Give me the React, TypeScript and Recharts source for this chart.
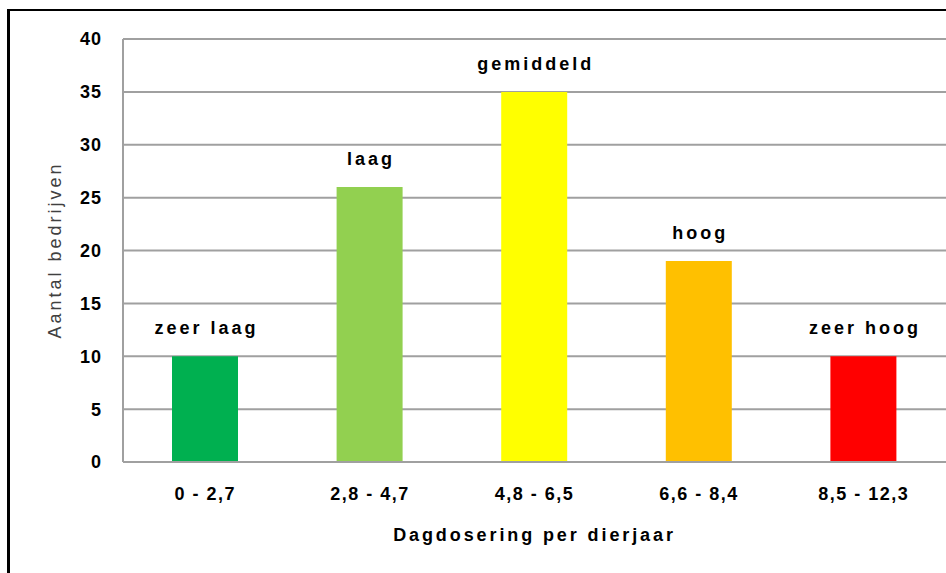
import { BarChart, Bar, Cell, XAxis, YAxis, CartesianGrid, LabelList, Label } from "recharts";

const ranges = ["0 - 2,7", "2,8 - 4,7", "4,8 - 6,5", "6,6 - 8,4", "8,5 - 12,3"];
const levels = ["zeer laag", "laag", "gemiddeld", "hoog", "zeer hoog"];
const counts = [10, 26, 35, 19, 10];
const colors = ["#00B050", "#92D050", "#FFFF00", "#FFC000", "#FF0000"];
const yTicks = [0, 5, 10, 15, 20, 25, 30, 35, 40];

const data = ranges.map((r, i) => ({ range: r, level: levels[i], count: counts[i] }));

const font = "Arial, 'Liberation Sans', sans-serif";
const gridColor = "#a0a0a0";

// label boven de staaf, zonder afbreken
const renderLevel = (props: any) => {
  const { x, y, width, value } = props;
  return (
    <text
      x={Number(x) + Number(width) / 2 + 1.5}
      y={Number(y) - 22}
      textAnchor="middle"
      fill="#000"
      fontSize={18}
      fontWeight="bold"
      fontFamily={font}
      letterSpacing={3}
    >
      {value}
    </text>
  );
};

export default function App() {
  return (
    <>
      <style>{`body{margin:0;overflow:hidden;background:#fff}`}</style>
      <div
        style={{
          position: "absolute",
          left: 7,
          top: 9,
          width: 939,
          height: 564,
          borderLeft: "3px solid #000",
          borderTop: "2px solid #000",
          boxSizing: "border-box",
          overflow: "hidden",
        }}
      >
        <BarChart width={936} height={562} data={data} margin={{ top: 28, right: 0, left: 0, bottom: 0 }}>
          <CartesianGrid vertical={false} stroke={gridColor} strokeWidth={2} />
          <XAxis
            dataKey="range"
            height={111}
            tickLine={false}
            axisLine={{ stroke: gridColor, strokeWidth: 2 }}
            tickMargin={19}
            tick={{ fill: "#000", fontSize: 18, fontWeight: "bold", fontFamily: font, letterSpacing: 1.5 }}
          >
            <Label
              value="Dagdosering per dierjaar"
              position="insideBottom"
              offset={32}
              style={{ fill: "#000", fontSize: 18, fontWeight: "bold", fontFamily: font, letterSpacing: 2.9 }}
            />
          </XAxis>
          <YAxis
            width={113}
            domain={[0, 40]}
            ticks={yTicks}
            interval={0}
            tickLine={false}
            axisLine={{ stroke: gridColor, strokeWidth: 2 }}
            tickMargin={15}
            tick={{ fill: "#000", fontSize: 18, fontWeight: "bold", fontFamily: font, letterSpacing: 1 }}
          >
            <Label
              content={() => (
                <text
                  x={45}
                  y={239}
                  transform="rotate(-90, 45, 239)"
                  textAnchor="middle"
                  dominantBaseline="central"
                  fill="#404040"
                  fontSize={18}
                  fontFamily={font}
                  letterSpacing={3}
                >
                  Aantal bedrijven
                </text>
              )}
            />
          </YAxis>
          <Bar dataKey="count" barSize={66} isAnimationActive={false}>
            {data.map((d, i) => (
              <Cell key={d.range} fill={colors[i]} />
            ))}
            <LabelList dataKey="level" content={renderLevel} />
          </Bar>
        </BarChart>
      </div>
    </>
  );
}
